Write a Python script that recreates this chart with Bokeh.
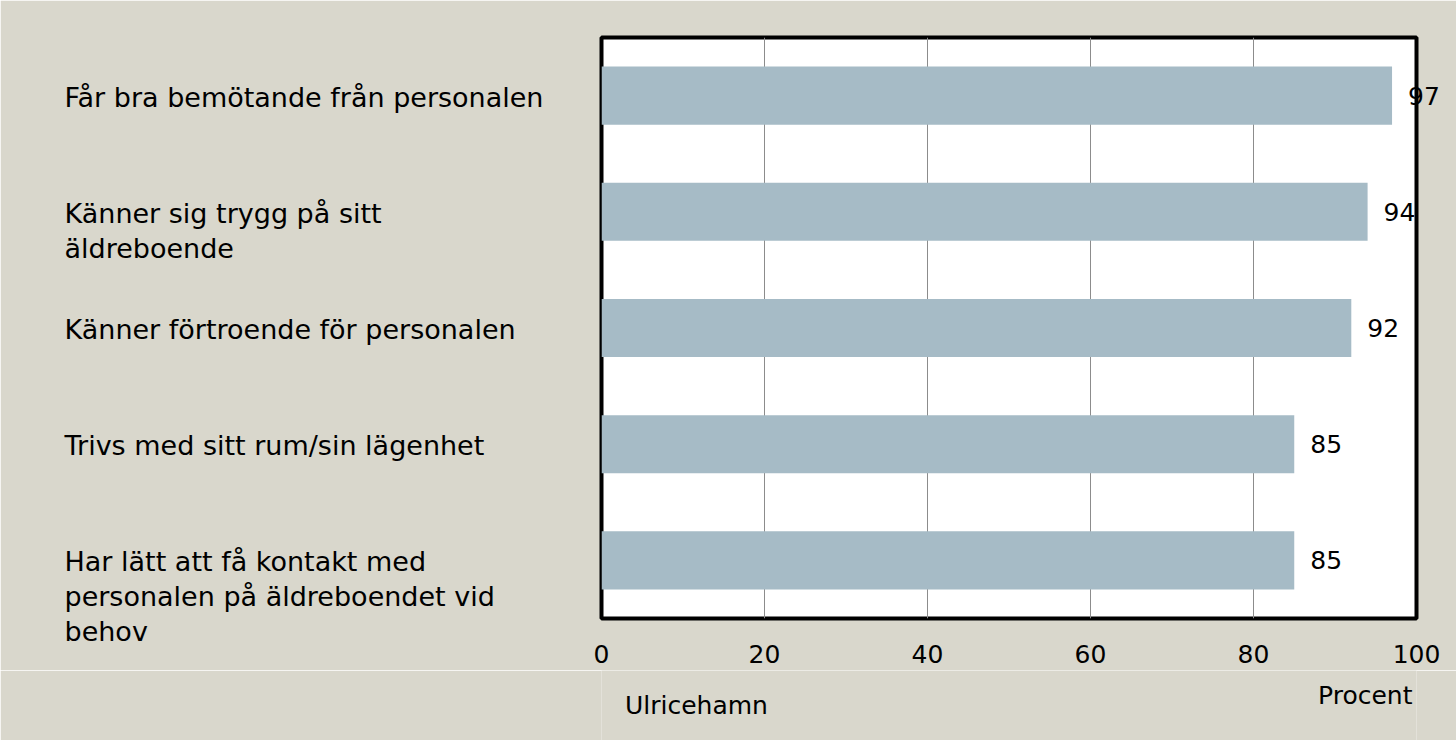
from bokeh.plotting import figure
from bokeh.layouts import column
from bokeh.models import (ColumnDataSource, FactorRange, Range1d, FixedTicker,
                          Legend, LegendItem)
from bokeh.core.properties import value
from bokeh.embed import file_html
from bokeh.resources import INLINE

categories = [
    "Får bra bemötande från personalen",
    "Känner sig trygg på sitt\näldreboende",
    "Känner förtroende för personalen",
    "Trivs med sitt rum/sin lägenhet",
    "Har lätt att få kontakt med\npersonalen på äldreboendet vid\nbehov",
]
values = [97, 94, 92, 85, 85]
series_name = "Ulricehamn"
x_ticks = [0, 20, 40, 60, 80, 100]
x_title = "Procent"

FONT = "DejaVu Sans"
BG = "#d9d7cc"
BAR = "#a6bbc6"

src = ColumnDataSource(dict(cat=categories, val=values,
                            txt=[str(v) for v in values]))
factors = list(reversed(categories))  # first category on top

# ---- main chart ----
p = figure(frame_width=815, frame_height=581,
           output_backend="svg", toolbar_location=None,
           y_range=FactorRange(factors=factors, range_padding=0),
           x_range=Range1d(0, 100),
           min_border_left=601, min_border_right=40, min_border_top=37,
           min_border_bottom=52)
p.border_fill_color = BG
p.background_fill_color = "white"
p.outline_line_color = "black"
p.outline_line_width = 4

r = p.hbar(y="cat", right="val", left=0, height=0.5, source=src,
           fill_color=BAR, line_color=None)

p.yaxis.visible = False
p.ygrid.grid_line_color = None
p.xgrid.grid_line_color = "#8c8c8c"
p.xgrid.grid_line_width = 1
p.xaxis.ticker = FixedTicker(ticks=x_ticks)
p.xaxis.axis_line_color = None
p.xaxis.major_tick_line_color = None
p.xaxis.minor_tick_line_color = None
p.xaxis.major_label_text_font = FONT
p.xaxis.major_label_text_font_size = "25px"
p.xaxis.major_label_text_color = "black"
p.xaxis.major_label_standoff = 20

# value labels at bar ends
p.text(x="val", y="cat", text="txt", source=src, x_offset=16,
       text_baseline="middle", text_align="left", level="overlay",
       text_font=value(FONT), text_font_size="25px", text_color="black")

# category labels, left aligned in the outer area
p.text(x=0, y="cat", text="cat", source=src, x_offset=-537, y_offset=-14,
       text_baseline="top", text_align="left", level="overlay",
       text_font=value(FONT), text_font_size="27px", text_color="black",
       text_line_height=1.12)

# ---- bottom strip: axis title and legend ----
q = figure(frame_width=815, frame_height=70,
           output_backend="svg", toolbar_location=None,
           x_range=p.x_range, y_range=Range1d(0, 1),
           x_axis_location=None, y_axis_location=None,
           min_border_left=601, min_border_right=40, min_border_top=0,
           min_border_bottom=0)
q.border_fill_color = BG
q.background_fill_color = BG
q.outline_line_color = None
q.xgrid.visible = False
q.ygrid.visible = False

qr = q.hbar(y=[], right=[], left=0, height=0.5,
            fill_color=BAR, line_color=None)

q.text(x=[x_ticks[-1]], y=[0.5], text=[x_title], x_offset=-4, y_offset=-10,
       text_align="right", text_baseline="middle",
       text_font=value(FONT), text_font_size="25px", text_color="black")

legend = Legend(items=[LegendItem(label=series_name, renderers=[qr])],
                location="left", padding=55, margin=0, spacing=0,
                glyph_width=16, glyph_height=16, label_standoff=8,
                background_fill_alpha=0, border_line_color=None,
                inactive_fill_alpha=0,
                label_text_font=FONT, label_text_font_size="25px",
                label_text_color="black")
q.add_layout(legend)

layout = column(p, q, spacing=0)
open("out.html", "w").write(file_html(layout, INLINE))
